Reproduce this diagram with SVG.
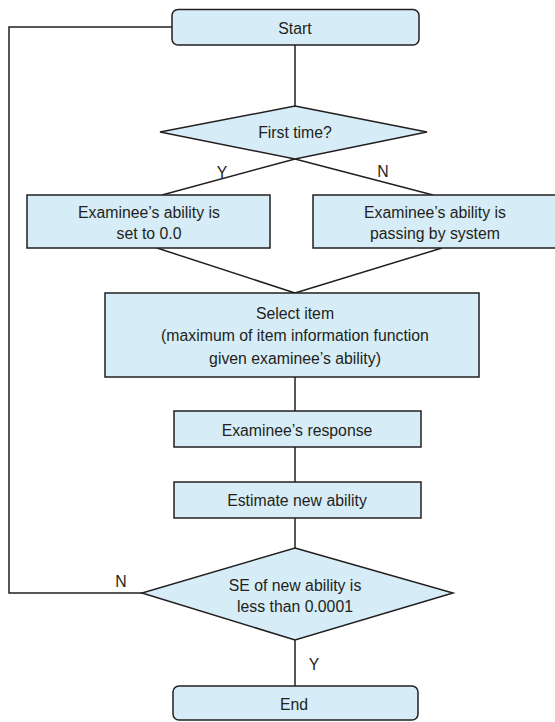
<svg xmlns="http://www.w3.org/2000/svg" width="555" height="722" viewBox="0 0 555 722">
<style>
.shape{fill:#d6ecf6;stroke:#231f20;stroke-width:1.5}
.conn{fill:none;stroke:#231f20;stroke-width:1.5}
text{font-family:"Liberation Sans",Arial,Helvetica,sans-serif;font-size:15.8px;fill:#231f20;text-anchor:middle}
</style>
<rect width="555" height="722" fill="#ffffff"/>
<g id="connectors">
<polyline class="conn" points="172,27 9,27 9,593 142,593"/>
<line class="conn" x1="295" y1="45" x2="295" y2="106"/>
<line class="conn" x1="295" y1="159" x2="162" y2="195"/>
<line class="conn" x1="295" y1="159" x2="433" y2="195"/>
<line class="conn" x1="157" y1="248" x2="295" y2="293"/>
<line class="conn" x1="442" y1="248" x2="295" y2="293"/>
<line class="conn" x1="295" y1="377" x2="295" y2="411"/>
<line class="conn" x1="295" y1="447" x2="295" y2="482"/>
<line class="conn" x1="295" y1="518" x2="295" y2="548"/>
<line class="conn" x1="295" y1="640" x2="295" y2="686"/>
<text x="222" y="177.5">Y</text>
<text x="383" y="176.5">N</text>
<text x="121" y="586.5">N</text>
<text x="314" y="669.5">Y</text>
</g>
<g id="start">
<rect class="shape" x="172" y="9.5" width="247" height="35.5" rx="6"/>
<text x="295" y="33.5">Start</text>
</g>
<g id="first-time">
<polygon class="shape" points="295,106 427,132 295,159 160,132"/>
<text x="295" y="137.5">First time?</text>
</g>
<g id="set-zero">
<rect class="shape" x="27" y="195" width="243" height="53"/>
<text x="149" y="217.5">Examinee’s ability is</text>
<text x="149" y="238.5">set to 0.0</text>
</g>
<g id="passing">
<rect class="shape" x="313" y="195" width="250" height="53"/>
<text x="435" y="217.5">Examinee’s ability is</text>
<text x="435" y="238.5">passing by system</text>
</g>
<g id="select-item">
<rect class="shape" x="105" y="293" width="374" height="84"/>
<text x="295" y="318.5">Select item</text>
<text x="295" y="341">(maximum of item information function</text>
<text x="295" y="363.5">given examinee’s ability)</text>
</g>
<g id="response">
<rect class="shape" x="174" y="411" width="247" height="36"/>
<text x="297" y="435.5">Examinee’s response</text>
</g>
<g id="estimate">
<rect class="shape" x="174" y="482" width="247" height="36"/>
<text x="297" y="505.5">Estimate new ability</text>
</g>
<g id="se-check">
<polygon class="shape" points="295,548 453,593 295,640 142,593"/>
<text x="295" y="590.5">SE of new ability is</text>
<text x="295" y="611.5">less than 0.0001</text>
</g>
<g id="end">
<rect class="shape" x="173" y="686" width="245" height="34" rx="6"/>
<text x="294" y="709.5">End</text>
</g>
</svg>
